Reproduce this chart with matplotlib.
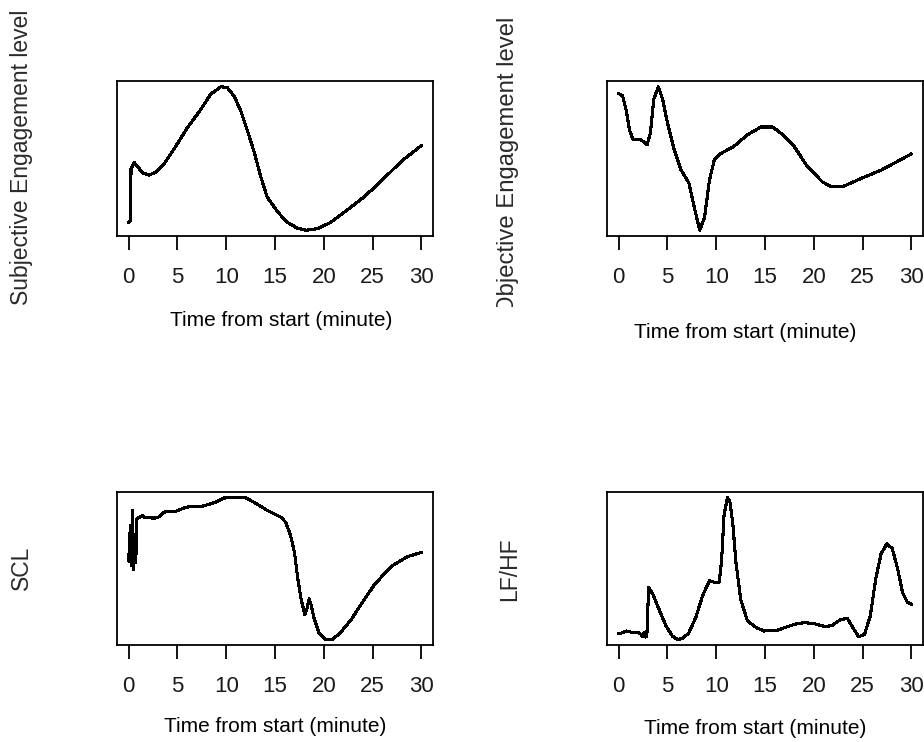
import matplotlib.pyplot as plt
from matplotlib.transforms import Bbox

plt.rcParams['font.family'] = ['Liberation Sans', 'DejaVu Sans']

W, H = 924, 742

# time axis (minutes) and engagement / physiology traces, arbitrary units
subj_t = [0, 0.17, 0.24, 0.58, 0.92, 1.43, 2.1, 2.8, 3.65, 4.7, 6.0, 7.4, 8.4,
          9.45, 10.1, 10.8, 11.5, 12.2, 12.9, 13.55, 14.2, 15.3, 16.3, 17.3,
          18.2, 19.4, 20.7, 22.4, 24.1, 25.8, 27.9, 30]
subj_v = [8.7, 9.7, 43.3, 47.0, 44.4, 40.5, 39.0, 41.1, 46.5, 56.3, 69.3, 81.2,
          90.9, 95.7, 95.2, 89.8, 80.1, 67.1, 53.0, 37.9, 24.9, 15.2, 8.7, 5.0,
          3.7, 4.8, 8.7, 16.7, 24.9, 34.6, 47.6, 58.0]

obj_t = [0, 0.4, 0.75, 1.1, 1.43, 2.3, 2.9, 3.25, 3.6, 4.06, 4.5, 5.0, 5.7,
         6.4, 7.2, 7.75, 8.3, 8.8, 9.3, 9.8, 10.5, 11.8, 13.2, 14.6, 15.8,
         16.6, 18.0, 19.35, 20.9, 21.7, 23.1, 24.8, 26.9, 30]
obj_v = [91.3, 89.8, 81.2, 68.2, 62.1, 61.7, 58.4, 66.0, 87.7, 95.7, 87.7, 72.5,
         55.2, 42.2, 34.0, 18.4, 3.7, 11.9, 35.7, 48.7, 53.0, 57.4, 64.9, 69.9,
         69.9, 66.0, 57.4, 44.4, 34.6, 32.0, 32.0, 36.8, 42.2, 52.6]

scl_t = [0, 0.17, 0.27, 0.37, 0.48, 0.58, 0.72, 0.85, 1.1, 1.43, 1.6, 2.6, 3.0,
         3.65, 4.85, 5.9, 7.6, 8.8, 9.8, 12.0, 13.2, 14.2, 15.6, 16.1, 16.6,
         17.0, 17.3, 17.65, 18.05, 18.25, 18.5, 18.7, 19.0, 19.5, 20.2, 20.9,
         21.7, 22.8, 23.8, 25.2, 26.9, 28.6, 30]
scl_v = [54.3, 77.2, 51.1, 87.0, 48.9, 71.7, 53.3, 81.5, 82.6, 83.7, 82.4, 82.0,
         82.4, 85.9, 86.5, 89.1, 89.8, 92.0, 95.0, 95.2, 90.9, 87.0, 82.6, 79.3,
         70.7, 59.8, 44.6, 30.4, 19.6, 22.8, 29.8, 26.1, 17.4, 8.0, 3.7, 3.7,
         8.0, 16.3, 26.1, 39.1, 50.7, 57.2, 59.8]

lfhf_t = [0, 0.4, 0.8, 1.26, 1.95, 2.3, 2.45, 2.6, 2.8, 2.9, 3.07, 3.5, 4.2,
          4.85, 5.5, 6.0, 6.55, 7.2, 7.9, 8.6, 9.3, 9.8, 10.3, 10.55, 10.8,
          11.15, 11.4, 11.7, 12.0, 12.5, 13.2, 14.1, 14.9, 16.3, 18.0, 19.0,
          20.0, 21.2, 21.9, 22.8, 23.45, 24.0, 24.6, 25.2, 25.8, 26.35, 26.9,
          27.5, 28.05, 28.6, 29.1, 29.6, 30]
lfhf_v = [7.0, 7.6, 8.7, 8.0, 8.0, 6.5, 5.0, 7.6, 4.8, 8.0, 37.0, 32.6, 21.7,
          12.0, 5.4, 3.3, 3.7, 7.6, 17.4, 31.5, 41.3, 40.2, 40.2, 54.3, 83.7,
          95.0, 92.4, 78.3, 54.3, 29.3, 15.2, 10.9, 8.7, 9.3, 13.0, 14.1, 13.5,
          11.5, 12.4, 16.3, 16.7, 10.9, 5.0, 6.5, 18.5, 42.4, 58.7, 65.2, 62.0,
          48.9, 33.7, 27.2, 26.1]

xticks = [0, 5, 10, 15, 20, 25, 30]
xlab = "Time from start (minute)"


def fx(x):
    return x / W


def fy(y):
    return 1 - y / H


fig = plt.figure(figsize=(W / 100, H / 100), dpi=100)

# box (left, top, right, bottom) in pixels, xlabel centre, ylabel centre, ylabel size
panels = [
    (subj_t, subj_v, "Subjective Engagement level", (117, 81, 433, 236), (281, 320), (22, 157), 16.5),
    (obj_t, obj_v, "Objective Engagement level", (607, 81, 923, 236), (745, 332), (508, 165), 17.2),
    (scl_t, scl_v, "SCL", (117, 492, 433, 645), (275, 727), (21, 568), 16.5),
    (lfhf_t, lfhf_v, "LF/HF", (607, 492, 923, 645), (755, 728), (510, 569), 16.5),
]

for t, v, ylab, (l, tp, r, b), (xlx, xly), (ylx, yly), ysize in panels:
    ax = fig.add_axes([fx(l), fy(b), fx(r - l), (b - tp) / H])
    ax.plot(t, v, color="black", lw=1.5, antialiased=False)
    ax.margins(x=0.04, y=0.04)
    ax.set_yticks([])
    ax.set_xticks(xticks)
    ax.tick_params(axis="x", length=10, width=1.3, pad=12, labelsize=16,
                   labelcolor="#1a1a1a")
    for s in ax.spines.values():
        s.set_linewidth(1.3)
    fig.text(fx(xlx), fy(xly), xlab, ha="center", va="center", fontsize=15)
    yt = fig.text(fx(ylx), fy(yly), ylab, ha="center", va="center", rotation=90,
                  fontsize=ysize, color="#2a2a2a")
    if ylab.startswith("Objective"):
        # the label runs past the bottom of its strip and is cut there
        yt.set_clip_box(Bbox.from_extents(0, H - 307, W, H))
        yt.set_clip_on(True)

fig.savefig("out.png", dpi=100)
